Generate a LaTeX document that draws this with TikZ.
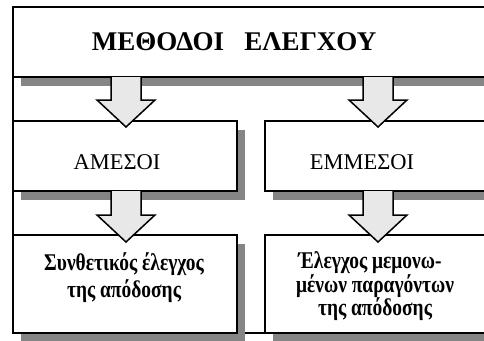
\documentclass[tikz,border=0pt]{standalone}
\usepackage{fontspec}
\setmainfont{Liberation Serif}
\newfontfamily\narrowserif[FakeStretch=0.81]{Liberation Serif}
\usetikzlibrary{calc}
\definecolor{shadowgray}{HTML}{858585}
\definecolor{arrowfill}{HTML}{E8E8E8}
\begin{document}
\begin{tikzpicture}[x=1pt,y=-1pt,
  box/.style={draw=black, line width=1.8pt, fill=white, inner sep=0pt, outer sep=0pt},
  boxshadow/.style={fill=shadowgray},
  title/.style={font=\fontsize{27}{30}\selectfont\bfseries, anchor=base, inner sep=0pt},
  midtext/.style={font=\fontsize{22.5}{27}\selectfont, anchor=base, inner sep=0pt},
  lowtext/.style={font=\narrowserif\fontsize{24}{27}\selectfont\bfseries, anchor=base, inner sep=0pt},
]
% picture area
\useasboundingbox (0,0) rectangle (484,340);
\clip (0,0) rectangle (484,340);

% fat down-arrow from #1 (stem top) to #2 (tip), with a drop shadow
\newcommand\fatarrow[2]{%
  \fill[shadowgray, shift={(6,8)}]
    ($(#1)+(-15,0)$) -- ($(#2)+(-15,-27)$) -- ($(#2)+(-29,-27)$) -- (#2)
    -- ($(#2)+(29,-27)$) -- ($(#2)+(15,-27)$) -- ($(#1)+(15,0)$) -- cycle;
  \draw[line width=1.5pt, fill=arrowfill, line join=miter]
    ($(#1)+(-15,0)$) -- ($(#2)+(-15,-27)$) -- ($(#2)+(-29,-27)$) -- (#2)
    -- ($(#2)+(29,-27)$) -- ($(#2)+(15,-27)$) -- ($(#1)+(15,0)$);
}

% outer frame
\draw[line width=1.2pt] (13,7) rectangle (530,333);

% box shadows
\fill[boxshadow] (21,16) rectangle (528,86);
\fill[boxshadow] (21,130) rectangle (245,200);
\fill[boxshadow] (273,130) rectangle (528,200);
\fill[boxshadow] (21,244) rectangle (245,342);
\fill[boxshadow] (273,244) rectangle (528,342);

% boxes
\node[box, minimum width=507pt, minimum height=70pt] (boxTop) at (266.5,42) {};
\node[box, minimum width=224pt, minimum height=70pt] (boxA) at (125,156) {};
\node[box, minimum width=255pt, minimum height=70pt] (boxE) at (392.5,156) {};
\node[box, minimum width=224pt, minimum height=98pt] (boxS) at (125,284) {};
\node[box, minimum width=255pt, minimum height=98pt] (boxM) at (392.5,284) {};

% arrow columns
\coordinate (colA) at (126,0);
\coordinate (colE) at (378,0);

\coordinate (a1s) at (boxTop.south -| colA);
\coordinate (a1e) at ($(boxA.north -| colA)+(0,6)$);
\coordinate (a2s) at (boxTop.south -| colE);
\coordinate (a2e) at ($(boxE.north -| colE)+(0,6)$);
\coordinate (a3s) at (boxA.south -| colA);
\coordinate (a3e) at ($(boxS.north -| colA)+(0,7)$);
\coordinate (a4s) at (boxE.south -| colE);
\coordinate (a4e) at ($(boxM.north -| colE)+(0,7)$);

\fatarrow{a1s}{a1e}
\fatarrow{a2s}{a2e}
\fatarrow{a3s}{a3e}
\fatarrow{a4s}{a4e}

% labels
\node[title] (tTitle) at (234,50) {ΜΕΘΟΔΟΙ\ \ \ ΕΛΕΓΧΟΥ};
\node[midtext] (tA) at (117,169) {ΑΜΕΣΟΙ};
\node[midtext] (tE) at (362,169) {ΕΜΜΕΣΟΙ};
\node[lowtext] (tS1) at (124,270) {Συνθετικός έλεγχος};
\node[lowtext] (tS2) at (124,297) {της απόδοσης};
\node[lowtext] (tM1) at (370,268) {Έλεγχος μεμονω-};
\node[lowtext] (tM2) at (375,292) {μένων παραγόντων};
\node[lowtext] (tM3) at (375,315) {της απόδοσης};
\end{tikzpicture}
\end{document}
